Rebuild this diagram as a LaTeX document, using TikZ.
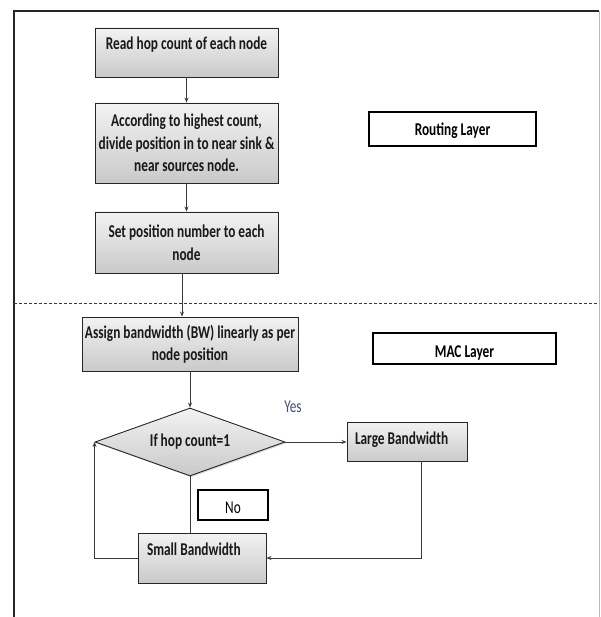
\documentclass[tikz,border=0pt]{standalone}
\usepackage{fontspec}
\setmainfont{Carlito}[FakeStretch=0.74]
\usetikzlibrary{shapes.geometric,arrows.meta,shadows}
\definecolor{lnc}{HTML}{3A3A3A}
\definecolor{yesc}{HTML}{44506E}
\begin{document}
\begin{tikzpicture}[x=1pt,y=-1pt,
  font=\fontsize{18}{22.5}\selectfont\bfseries,
  box/.style={draw=black!85, line width=0.9pt, top color=gray!10, bottom color=gray!42,
    inner sep=0pt, text=black!90,
    drop shadow={shadow xshift=1.3pt, shadow yshift=-1.3pt, opacity=0.3}},
  tag/.style={draw=black, line width=2.4pt, fill=white, inner sep=0pt,
    drop shadow={shadow xshift=1.2pt, shadow yshift=-1.2pt, opacity=0.25}},
  arr/.style={draw=lnc, line width=0.8pt, -{Stealth[length=5pt,width=4pt]}},
  ln/.style={draw=lnc, line width=0.8pt}]
\useasboundingbox (0,0) rectangle (600,617);
% frame
\draw[line width=1.8pt, black!85] (14,617) -- (14,11) -- (599,11);
\draw[line width=0.8pt, gray!55] (599,11) -- (599,617);
% layer separator
\draw[lnc, line width=0.9pt, dash pattern=on 3pt off 2pt] (14,303) -- (599,303);

% process boxes
\node[box, minimum width=183pt, text height=22pt, text depth=27pt] (b1) at (186.5,52.5)
  {Read hop count of each node};
\node[box, minimum width=183pt, minimum height=80pt, align=center] (b2) at (186.5,143)
  {According to highest count,\\divide position in to near sink \&\\near sources node.};
\node[box, minimum width=183pt, minimum height=61pt, align=center] (b3) at (186.5,242.5)
  {Set position number to each\\node};
\node[box, minimum width=216pt, minimum height=54pt, align=center] (b4) at (190,344)
  {Assign bandwidth (BW) linearly as per\\node position};
\node[box, shape=diamond, aspect=2.8, minimum width=190pt, minimum height=68pt] (dec) at (190,442)
  {If hop count=1};
\node[box, inner xsep=8pt, text height=22pt, text depth=17pt] (large) at (407,441.5)
  {\makebox[104pt][l]{Large Bandwidth}};
\node[box, inner xsep=9pt, text height=22pt, text depth=28pt] (small) at (202,558)
  {\makebox[110pt][l]{Small Bandwidth}};

% tags
\node[tag, minimum width=167pt, text height=24pt, text depth=10pt] (rl) at (452.5,129) {Routing Layer};
\node[tag, minimum width=183pt, text height=24pt, text depth=7pt] (ml) at (464.5,348.5) {MAC Layer};
\node[tag, minimum width=70pt, text height=23pt, text depth=7pt, font=\fontsize{18}{22}\selectfont\mdseries] (no) at (233,505) {No};
\node[font=\fontsize{18}{22}\selectfont\mdseries, text=yesc, inner sep=0pt] (yes) at (293,407) {Yes};

% connectors
\draw[arr] (b1.south) -- (b2.north);
\draw[arr] (b2.south) -- (b3.north);
\draw[arr] ([xshift=-4.5pt]b3.south) -- ([xshift=-4.5pt]b3.south |- b4.north);
\draw[arr] (b4.south) -- (dec.north);
\draw[arr] (dec.east) -- (dec.east -| large.west);
\draw[ln] (dec.south) -- (dec.south |- small.north);
\draw[arr] ([xshift=14pt]large.south) |- (small.east);
\draw[arr] (small.west) -| (dec.west);
\end{tikzpicture}
\end{document}
